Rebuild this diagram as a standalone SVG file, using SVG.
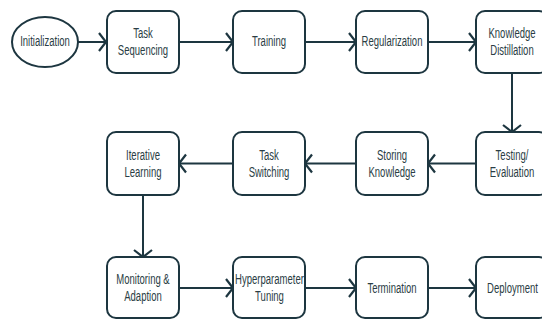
<svg xmlns="http://www.w3.org/2000/svg" width="542" height="320" viewBox="0 0 542 320">
<defs>
<style>
.box{fill:#ffffff;stroke:#1d3640;stroke-width:2}
.lbl{font-family:"Liberation Sans",Arial,sans-serif;font-size:14px;fill:#2a3d44;text-anchor:middle}
.con{stroke:#1d3640;stroke-width:2;fill:none}
</style>
<marker id="arr" markerUnits="userSpaceOnUse" markerWidth="10" markerHeight="20" refX="8" refY="10" orient="auto" overflow="visible">
<path d="M1,1 L8,10 L1,19" fill="none" stroke="#1d3640" stroke-width="2.2"/>
</marker>
</defs>
<rect width="542" height="320" fill="#ffffff"/>
<g id="connectors">
<line class="con" x1="78" y1="42" x2="106" y2="42" marker-end="url(#arr)"/>
<line class="con" x1="179" y1="42" x2="233" y2="42" marker-end="url(#arr)"/>
<line class="con" x1="305" y1="42" x2="356" y2="42" marker-end="url(#arr)"/>
<line class="con" x1="428" y1="42" x2="476" y2="42" marker-end="url(#arr)"/>
<line class="con" x1="512" y1="73" x2="512" y2="132" marker-end="url(#arr)"/>
<line class="con" x1="476" y1="163.5" x2="428" y2="163.5" marker-end="url(#arr)"/>
<line class="con" x1="356" y1="163.5" x2="305" y2="163.5" marker-end="url(#arr)"/>
<line class="con" x1="233" y1="163.5" x2="179" y2="163.5" marker-end="url(#arr)"/>
<line class="con" x1="143" y1="195" x2="143" y2="257" marker-end="url(#arr)"/>
<line class="con" x1="179" y1="288" x2="233" y2="288" marker-end="url(#arr)"/>
<line class="con" x1="305" y1="288" x2="356" y2="288" marker-end="url(#arr)"/>
<line class="con" x1="428" y1="288" x2="476" y2="288" marker-end="url(#arr)"/>
</g>
<g id="initialization">
<ellipse class="box" cx="45" cy="42" rx="33" ry="25"/>
<g transform="translate(45,0) scale(0.68,1)"><text class="lbl" x="0" y="46.5">Initialization</text></g>
</g>
<g id="task-sequencing">
<rect class="box" x="107" y="11" width="72" height="62" rx="9"/>
<g transform="translate(143,0) scale(0.68,1)"><text class="lbl" x="0" y="38.5">Task</text><text class="lbl" x="0" y="55">Sequencing</text></g>
</g>
<g id="training">
<rect class="box" x="233" y="11" width="72" height="62" rx="9"/>
<g transform="translate(269,0) scale(0.68,1)"><text class="lbl" x="0" y="46.5">Training</text></g>
</g>
<g id="regularization">
<rect class="box" x="356" y="11" width="72" height="62" rx="9"/>
<g transform="translate(392,0) scale(0.68,1)"><text class="lbl" x="0" y="46.5">Regularization</text></g>
</g>
<g id="knowledge-distillation">
<rect class="box" x="476" y="11" width="72" height="62" rx="9"/>
<g transform="translate(512,0) scale(0.68,1)"><text class="lbl" x="0" y="38.5">Knowledge</text><text class="lbl" x="0" y="55">Distillation</text></g>
</g>
<g id="testing-evaluation">
<rect class="box" x="476" y="132" width="72" height="63" rx="9"/>
<g transform="translate(512,0) scale(0.68,1)"><text class="lbl" x="0" y="160.5">Testing/</text><text class="lbl" x="0" y="177">Evaluation</text></g>
</g>
<g id="storing-knowledge">
<rect class="box" x="356" y="132" width="72" height="63" rx="9"/>
<g transform="translate(392,0) scale(0.68,1)"><text class="lbl" x="0" y="160.5">Storing</text><text class="lbl" x="0" y="177">Knowledge</text></g>
</g>
<g id="task-switching">
<rect class="box" x="233" y="132" width="72" height="63" rx="9"/>
<g transform="translate(269,0) scale(0.68,1)"><text class="lbl" x="0" y="160.5">Task</text><text class="lbl" x="0" y="177">Switching</text></g>
</g>
<g id="iterative-learning">
<rect class="box" x="107" y="132" width="72" height="63" rx="9"/>
<g transform="translate(143,0) scale(0.68,1)"><text class="lbl" x="0" y="160.5">Iterative</text><text class="lbl" x="0" y="177">Learning</text></g>
</g>
<g id="monitoring-adaption">
<rect class="box" x="107" y="257" width="72" height="61" rx="9"/>
<g transform="translate(143,0) scale(0.68,1)"><text class="lbl" x="0" y="284.5">Monitoring &amp;</text><text class="lbl" x="0" y="301">Adaption</text></g>
</g>
<g id="hyperparameter-tuning">
<rect class="box" x="233" y="257" width="72" height="61" rx="9"/>
<g transform="translate(269.5,0) scale(0.68,1)"><text class="lbl" x="0" y="284.5">Hyperparameter</text><text class="lbl" x="0" y="301">Tuning</text></g>
</g>
<g id="termination">
<rect class="box" x="356" y="257" width="72" height="61" rx="9"/>
<g transform="translate(392,0) scale(0.68,1)"><text class="lbl" x="0" y="293">Termination</text></g>
</g>
<g id="deployment">
<rect class="box" x="476" y="257" width="72" height="61" rx="9"/>
<g transform="translate(512.5,0) scale(0.68,1)"><text class="lbl" x="0" y="293">Deployment</text></g>
</g>
</svg>
